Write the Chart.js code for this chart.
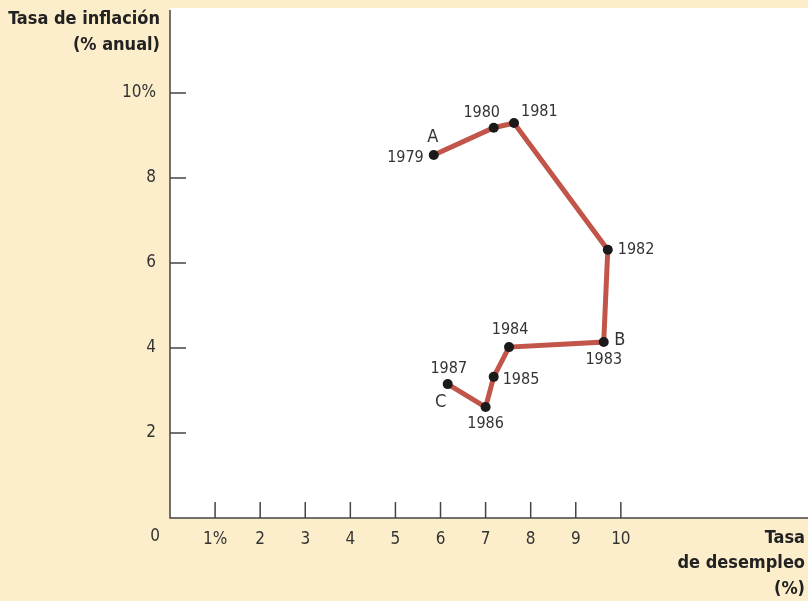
<!DOCTYPE html>
<html>
<head>
<meta charset="utf-8">
<script src="https://cdn.jsdelivr.net/npm/chart.js@4/dist/chart.umd.min.js"></script>
<style>
  html, body { margin: 0; padding: 0; background: #fdeecb; }
</style>
</head>
<body>
<canvas id="phillips" width="808" height="601"></canvas>
<script>
// data
const years = ["1979", "1980", "1981", "1982", "1983", "1984", "1985", "1986", "1987"]
const unemployment = [5.85, 7.18, 7.63, 9.71, 9.62, 7.52, 7.18, 7.0, 6.16]
const inflation = [8.54, 9.18, 9.29, 6.31, 4.14, 4.02, 3.32, 2.61, 3.15]
const letters = ["A", "", "", "", "B", "", "", "", "C"]
const xTicks = [1, 2, 3, 4, 5, 6, 7, 8, 9, 10]
const yTicks = [2, 4, 6, 8, 10]

const FONT = "'Liberation Sans Narrow', 'DejaVu Sans Condensed', 'Open Sans', sans-serif"
const INK = "#333"

// where each year / letter sits relative to its point: [dx, dy, align]
const yearPos = [
  [-10, 3, "right"], [-12, -15, "center"], [7, -11, "left"], [10, 0, "left"],
  [0, 18, "center"], [1, -17, "center"], [9, 3, "left"], [0, 17, "center"], [1, -15, "center"],
]
const letterPos = { 0: [-1, -18], 4: [16, -2], 8: [-7, 18] }

const frame = {
  id: "frame",
  beforeDraw(chart) {
    const { ctx, chartArea: a } = chart
    ctx.save()
    ctx.fillStyle = "#ffffff"
    ctx.fillRect(a.left, a.top - 2, chart.width - a.left, a.bottom - a.top + 2)
    ctx.restore()
  },
  afterDatasetsDraw(chart) {
    const { ctx, chartArea: a, scales } = chart
    const x = scales.x, y = scales.y
    ctx.save()
    // axes + inward ticks
    ctx.strokeStyle = "#444"
    ctx.lineWidth = 1.5
    ctx.beginPath()
    ctx.moveTo(a.left, a.top)
    ctx.lineTo(a.left, a.bottom)
    ctx.lineTo(chart.width, a.bottom)
    yTicks.forEach((v) => {
      const py = y.getPixelForValue(v)
      ctx.moveTo(a.left, py)
      ctx.lineTo(a.left + 16, py)
    })
    xTicks.forEach((v) => {
      const px = x.getPixelForValue(v)
      ctx.moveTo(px, a.bottom)
      ctx.lineTo(px, a.bottom - 16)
    })
    ctx.stroke()

    // year labels and letters
    ctx.fillStyle = INK
    ctx.textBaseline = "middle"
    ctx.font = "16px " + FONT
    years.forEach((yr, i) => {
      const px = x.getPixelForValue(unemployment[i])
      const py = y.getPixelForValue(inflation[i])
      const [dx, dy, al] = yearPos[i]
      ctx.textAlign = al
      ctx.fillText(yr, px + dx, py + dy)
      if (letters[i]) {
        const [lx, ly] = letterPos[i]
        ctx.textAlign = "center"
        ctx.font = "18px " + FONT
        ctx.fillText(letters[i], px + lx, py + ly)
        ctx.font = "16px " + FONT
      }
    })

    // origin label
    ctx.font = "17px " + FONT
    ctx.textAlign = "center"
    ctx.fillText("0", a.left - 15, a.bottom + 19)

    // axis titles
    ctx.font = "bold 18px " + FONT
    ctx.fillStyle = "#222"
    ctx.textAlign = "right"
    ctx.fillText("Tasa de inflación", 160, 19)
    ctx.fillText("(% anual)", 160, 45)
    ctx.fillText("Tasa", 805, 538)
    ctx.fillText("de desempleo", 805, 563)
    ctx.fillText("(%)", 805, 589)
    ctx.restore()
  },
}

new Chart(document.getElementById("phillips"), {
  type: "line",
  data: {
    datasets: [
      {
        data: unemployment.map((u, i) => ({ x: u, y: inflation[i] })),
        borderColor: "#c1554a",
        borderWidth: 5,
        pointRadius: 5,
        pointBackgroundColor: "#1a1a1a",
        pointBorderWidth: 0,
        tension: 0,
      },
    ],
  },
  options: {
    responsive: false,
    animation: false,
    layout: { padding: { top: 10, right: 0, left: 0, bottom: 0 } },
    plugins: { legend: { display: false }, tooltip: { enabled: false } },
    scales: {
      x: {
        type: "linear",
        min: 0,
        max: 14.04,
        afterFit: (s) => {
          s.height = 83
          s.paddingLeft = 0
          s.paddingRight = 0
        },
        border: { display: false },
        grid: { display: false },
        ticks: {
          stepSize: 1,
          autoSkip: false,
          maxRotation: 0,
          padding: 3,
          color: INK,
          font: { family: FONT, size: 17 },
          callback: (v) => (xTicks.includes(v) ? (v === 1 ? "1%" : String(v)) : ""),
        },
      },
      y: {
        min: 0,
        max: 11.95,
        afterFit: (s) => {
          s.width = 170
          s.paddingTop = 0
          s.paddingBottom = 0
        },
        border: { display: false },
        grid: { display: false },
        ticks: {
          stepSize: 2,
          padding: 6,
          color: INK,
          font: { family: FONT, size: 17 },
          callback: (v) => (yTicks.includes(v) ? (v === 10 ? "10%" : String(v)) : ""),
        },
      },
    },
  },
  plugins: [frame],
})
</script>
</body>
</html>
